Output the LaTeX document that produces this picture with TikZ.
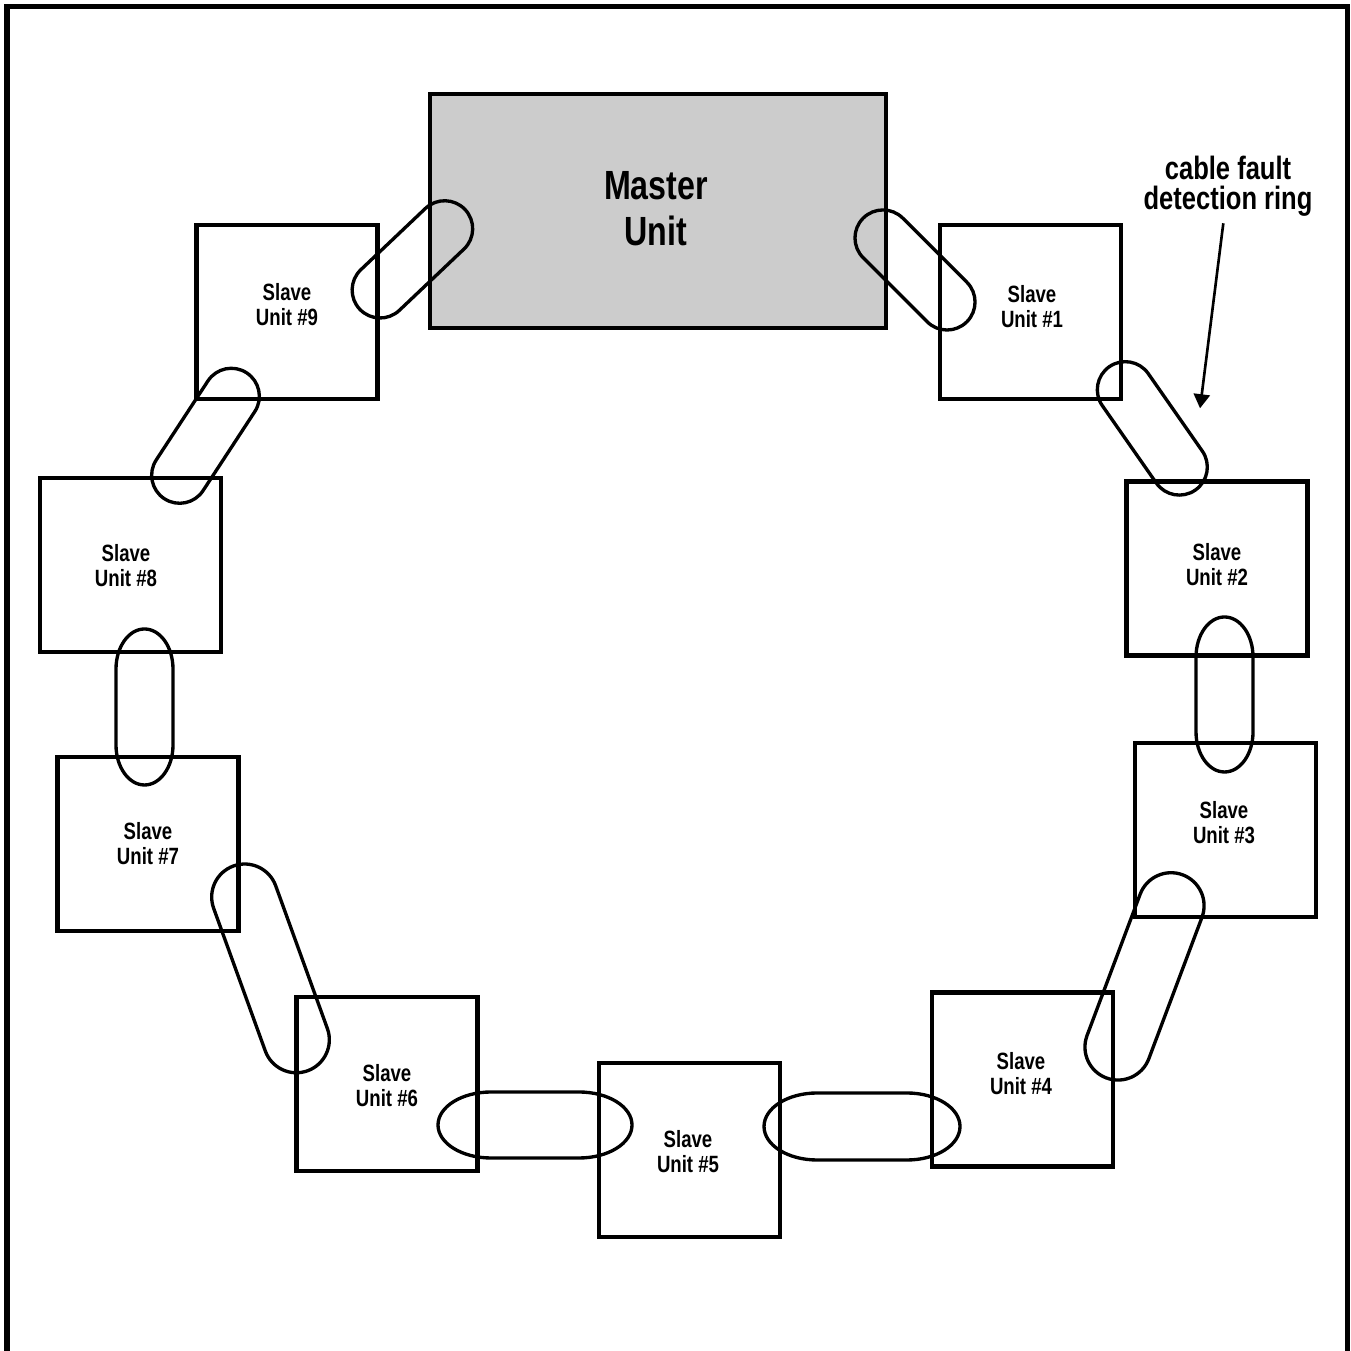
\documentclass[tikz,border=0pt]{standalone}
\usepackage{fontspec}
\usepackage{tikz,xcolor}
\usetikzlibrary{arrows.meta}
\newfontfamily\unitfont{Liberation Sans}[FakeStretch=0.79]
\definecolor{mastergray}{gray}{0.8}

\begin{document}
\begin{tikzpicture}[x=0.1mm,y=0.1mm]
    \useasboundingbox (0,0) rectangle (1351,1351);

    \tikzstyle{unit}=[draw,line width=1.4pt,minimum width=18.1mm,minimum height=17.4mm,inner sep=0pt]
    \tikzstyle{unittext}=[align=center,inner sep=0pt,font=\unitfont\bfseries\fontsize{6.7}{7.1}\selectfont]
    \tikzstyle{link}=[line width=0.95pt]

    % outer frame (open at the bottom)
    \draw[line width=1.45pt] (7,0)--(7,1344.5)--(1347.5,1344.5)--(1347.5,0);

    \node[unit,fill=mastergray,minimum width=45.6mm,minimum height=23.4mm](m) at (658,1140){};
    \node[unit](s1) at (1030.5,1039){};
    \node[unit](s2) at (1217,782.5){};
    \node[unit](s3) at (1225.5,521){};
    \node[unit](s4) at (1022.5,271.5){};
    \node[unit](s5) at (689.5,201){};
    \node[unit](s6) at (387,267){};
    \node[unit](s7) at (148,507){};
    \node[unit](s8) at (130.5,786){};
    \node[unit](s9) at (287,1039){};

    \node[unittext,font=\unitfont\bfseries\fontsize{11.6}{13.2}\selectfont](mt) at (656,1142){Master\\Unit};
    \node[unittext](t1) at (1032,1044){Slave\\Unit \#1};
    \node[unittext](t2) at (1217,786){Slave\\Unit \#2};
    \node[unittext](t3) at (1224,528){Slave\\Unit \#3};
    \node[unittext](t4) at (1021,277){Slave\\Unit \#4};
    \node[unittext](t5) at (688,199){Slave\\Unit \#5};
    \node[unittext](t6) at (387,265){Slave\\Unit \#6};
    \node[unittext](t7) at (148,507){Slave\\Unit \#7};
    \node[unittext](t8) at (126,785){Slave\\Unit \#8};
    \node[unittext](t9) at (287,1046){Slave\\Unit \#9};

    % ring links, round ends
    \draw[link,shift={(412.4,1091.6)},rotate=43.5] (-44.5,-28)--(44.5,-28) arc[start angle=-90,end angle=90,radius=28]--(-44.5,28) arc[start angle=90,end angle=270,radius=28]--cycle;
    \draw[link,shift={(915,1081)},rotate=-45] (-45.3,-28)--(45.3,-28) arc[start angle=-90,end angle=90,radius=28]--(-45.3,28) arc[start angle=90,end angle=270,radius=28]--cycle;
    \draw[link,shift={(1152.3,922.6)},rotate=-55.1] (-47.2,-28)--(47.2,-28) arc[start angle=-90,end angle=90,radius=28]--(-47.2,28) arc[start angle=90,end angle=270,radius=28]--cycle;
    \draw[link,shift={(1144.5,374.6)},rotate=69.4] (-75.5,-33)--(75.5,-33) arc[start angle=-90,end angle=90,radius=33]--(-75.5,33) arc[start angle=90,end angle=270,radius=33]--cycle;
    \draw[link,shift={(270.5,382.6)},rotate=-70.1] (-75.9,-33)--(75.9,-33) arc[start angle=-90,end angle=90,radius=33]--(-75.9,33) arc[start angle=90,end angle=270,radius=33]--cycle;
    \draw[link,shift={(205.5,915.2)},rotate=56.8] (-47.2,-28)--(47.2,-28) arc[start angle=-90,end angle=90,radius=28]--(-47.2,28) arc[start angle=90,end angle=270,radius=28]--cycle;

    % ring links, flat ends
    \draw[link,shift={(862,224.5)}] (-45,-33.5)--(45,-33.5) arc[start angle=-90,end angle=90,x radius=53,y radius=33.5]--(-45,33.5) arc[start angle=90,end angle=270,x radius=53,y radius=33.5]--cycle;
    \draw[link,shift={(535,226)}] (-44,-33)--(44,-33) arc[start angle=-90,end angle=90,x radius=53,y radius=33]--(-44,33) arc[start angle=90,end angle=270,x radius=53,y radius=33]--cycle;
    \draw[link,shift={(1224.5,656.5)},rotate=90] (-37.5,-28.5)--(37.5,-28.5) arc[start angle=-90,end angle=90,x radius=40,y radius=28.5]--(-37.5,28.5) arc[start angle=90,end angle=270,x radius=40,y radius=28.5]--cycle;
    \draw[link,shift={(144.5,644)},rotate=90] (-38,-28.5)--(38,-28.5) arc[start angle=-90,end angle=90,x radius=40,y radius=28.5]--(-38,28.5) arc[start angle=90,end angle=270,x radius=40,y radius=28.5]--cycle;

    % label and its arrow
    \node[align=center,inner sep=0pt,font=\unitfont\bfseries\fontsize{9.2}{8.6}\selectfont](lbl) at (1228,1165){cable fault\\detection ring};
    \coordinate (tip) at (1200,942.7);
    \draw[line width=0.75pt,-{Triangle[width=4.6pt,length=4pt]}] (1223.3,1127.7)--(tip);

\end{tikzpicture}
\end{document}
